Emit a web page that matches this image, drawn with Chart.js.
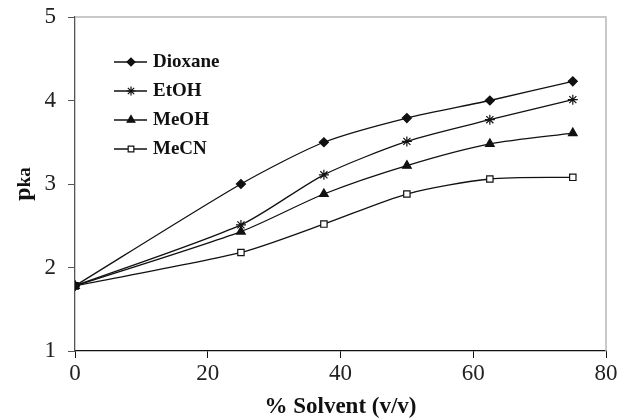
<!DOCTYPE html>
<html lang="en">
<head>
    <title>pKa vs solvent</title>
    <script src="https://cdn.jsdelivr.net/npm/chart.js"></script>
    <style>
        body { margin: 0; background: #fff; }
        .chart-container { width: 618px; height: 418px; position: relative; }
        canvas { display: block; }
    </style>
</head>
<body>
    <div class="chart-container">
        <canvas id="myChart" width="618" height="418"></canvas>
    </div>

    <script>
        const solvent = [0, 25, 37.5, 50, 62.5, 75];
        const dioxane = [1.78, 3.0, 3.5, 3.79, 4.0, 4.23];
        const etoh = [1.78, 2.51, 3.11, 3.51, 3.77, 4.01];
        const meoh = [1.78, 2.43, 2.88, 3.22, 3.48, 3.61];
        const mecn = [1.78, 2.18, 2.52, 2.88, 3.06, 3.08];
        const seriesNames = ["Dioxane", "EtOH", "MeOH", "MeCN"];

        const serif = "'Liberation Serif', 'DejaVu Serif', serif";

        function pts(ys) {
            return ys.map((y, i) => ({ x: solvent[i], y: y }));
        }

        const styles = [
            { pointStyle: "rectRot", bg: "#111", r: 4.5 },
            { pointStyle: "star", bg: "#111", r: 5 },
            { pointStyle: "triangle", bg: "#111", r: 5 },
            { pointStyle: "rect", bg: "#fff", r: 4.5 }
        ];

        const datasets = [dioxane, etoh, meoh, mecn].map((ys, i) => ({
            label: seriesNames[i],
            data: pts(ys),
            borderColor: "#111",
            borderWidth: 1.3,
            pointStyle: styles[i].pointStyle,
            pointRadius: styles[i].r,
            pointBackgroundColor: styles[i].bg,
            pointBorderColor: "#111",
            pointBorderWidth: 1.2,
            tension: 0.25,
            fill: false
        }));

        // legend inside plot + y title + gray frame
        const extras = {
            id: "extras",
            afterDraw(chart) {
                const ctx = chart.ctx;
                const a = chart.chartArea;
                ctx.save();
                ctx.strokeStyle = "#b8b8b8";
                ctx.lineWidth = 1.5;
                ctx.beginPath();
                ctx.moveTo(a.left, a.top);
                ctx.lineTo(a.right, a.top);
                ctx.lineTo(a.right, a.bottom);
                ctx.stroke();

                const ys = [62, 91, 120, 149];
                chart.data.datasets.forEach((ds, i) => {
                    const y = ys[i];
                    ctx.strokeStyle = "#111";
                    ctx.lineWidth = 1.3;
                    ctx.beginPath();
                    ctx.moveTo(114, y);
                    ctx.lineTo(147, y);
                    ctx.stroke();
                    ctx.fillStyle = ds.pointBackgroundColor;
                    ctx.lineWidth = 1.2;
                    Chart.helpers.drawPoint(ctx, {
                        pointStyle: ds.pointStyle,
                        radius: ds.pointRadius - 0.5,
                        borderWidth: 1.2
                    }, 131, y);
                    ctx.fillStyle = "#111";
                    ctx.font = "bold 19px " + serif;
                    ctx.textBaseline = "middle";
                    ctx.textAlign = "left";
                    ctx.fillText(ds.label, 153, y);
                });

                // y title pKa
                ctx.translate(22, 184);
                ctx.rotate(-Math.PI / 2);
                ctx.fillStyle = "#111";
                ctx.textBaseline = "alphabetic";
                ctx.textAlign = "left";
                ctx.font = "bold 24px " + serif;
                const w = ctx.measureText("p").width;
                ctx.font = "bold 19px " + serif;
                const w2 = ctx.measureText("ka").width;
                const start = -(w + w2) / 2;
                ctx.font = "bold 24px " + serif;
                ctx.fillText("p", start, 8);
                ctx.font = "bold 19px " + serif;
                ctx.fillText("ka", start + w, 8);
                ctx.restore();
            }
        };

        const ctx = document.getElementById("myChart").getContext("2d");
        new Chart(ctx, {
            type: "line",
            data: { datasets: datasets },
            options: {
                responsive: false,
                animation: false,
                layout: { padding: { top: 17, right: 12, left: 0, bottom: 0 } },
                plugins: {
                    legend: { display: false },
                    tooltip: { enabled: false }
                },
                scales: {
                    x: {
                        type: "linear",
                        min: 0,
                        max: 80,
                        ticks: {
                            stepSize: 20,
                            color: "#222",
                            font: { family: serif, size: 23 },
                            padding: 2
                        },
                        grid: {
                            drawOnChartArea: false,
                            tickLength: 7,
                            color: "#111"
                        },
                        border: { color: "#111", width: 1.3 },
                        title: {
                            display: true,
                            text: "% Solvent (v/v)",
                            color: "#111",
                            font: { family: serif, size: 23, weight: "bold" },
                            padding: { top: 10, bottom: -3 }
                        },
                        afterFit(scale) {
                            scale.height = 67;
                            scale.paddingLeft = 0;
                            scale.paddingRight = 0;
                        }
                    },
                    y: {
                        min: 1,
                        max: 5,
                        ticks: {
                            stepSize: 1,
                            color: "#222",
                            font: { family: serif, size: 23 },
                            padding: 12
                        },
                        grid: {
                            drawOnChartArea: false,
                            tickLength: 7,
                            color: "#555"
                        },
                        border: { color: "#555", width: 1.3 },
                        afterFit(scale) {
                            scale.width = 75;
                            scale.paddingTop = 0;
                            scale.paddingBottom = 0;
                        }
                    }
                }
            },
            plugins: [extras]
        });
    </script>
</body>
</html>
